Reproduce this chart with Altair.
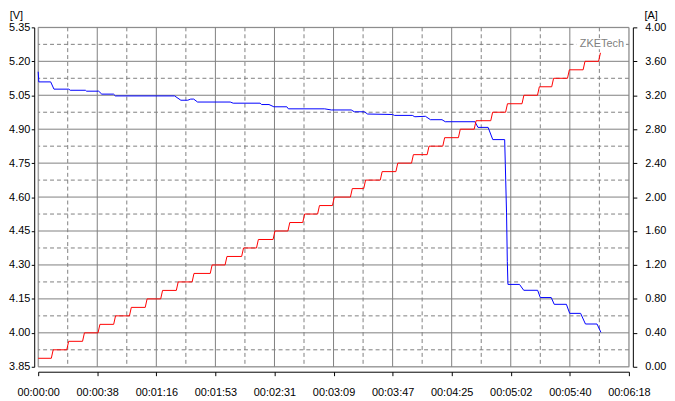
import json
import altair as alt
import pandas as pd

# ---------------- data ----------------
time_ticks = [0, 37.8, 75.6, 113.4, 151.2, 189.0, 226.8, 264.6, 302.4, 340.2, 378.0]
time_labels = ["00:00:00", "00:00:38", "00:01:16", "00:01:53", "00:02:31", "00:03:09",
               "00:03:47", "00:04:25", "00:05:02", "00:05:40", "00:06:18"]
time_minor = [18.9, 56.7, 94.5, 132.3, 170.1, 207.9, 245.7, 283.5, 321.3, 359.1]
volt_ticks = [3.85, 4.00, 4.15, 4.30, 4.45, 4.60, 4.75, 4.90, 5.05, 5.20, 5.35]
volt_minor = [3.925, 4.075, 4.225, 4.375, 4.525, 4.675, 4.825, 4.975, 5.125, 5.275]
amp_ticks = [0.0, 0.4, 0.8, 1.2, 1.6, 2.0, 2.4, 2.8, 3.2, 3.6, 4.0]

# voltage (blue) trace: time [s], voltage [V]
volt_time = [0.0, 0.4, 8.0, 10.1, 19.6, 20.5, 30.2, 31.0, 38.7, 40.7, 48.2, 49.4, 87.3, 91.3,
             95.7, 97.6, 99.5, 102.0, 122.9, 124.8, 142.0, 143.0, 147.7, 150.8, 159.1, 160.1,
             183.3, 187.6, 200.3, 202.3, 208.7, 210.8, 226.7, 228.0, 239.4, 241.0, 247.8, 251.0,
             258.4, 260.5, 279.5, 281.4, 287.9, 290.9, 298.5, 298.9, 299.7, 300.2, 300.6, 308.0,
             310.7, 319.6, 321.3, 328.3, 330.2, 338.0, 340.1, 347.1, 350.2, 357.6, 360.1]
volt_value = [5.154, 5.109, 5.109, 5.077, 5.077, 5.072, 5.072, 5.068, 5.068, 5.055, 5.055, 5.047,
              5.047, 5.028, 5.028, 5.033, 5.033, 5.020, 5.020, 5.015, 5.015, 5.009, 5.009, 4.999,
              4.999, 4.990, 4.990, 4.985, 4.985, 4.977, 4.977, 4.967, 4.965, 4.961, 4.961, 4.955,
              4.957, 4.942, 4.942, 4.933, 4.933, 4.908, 4.908, 4.854, 4.854, 4.749, 4.530, 4.315,
              4.214, 4.214, 4.188, 4.188, 4.156, 4.156, 4.126, 4.126, 4.086, 4.086, 4.039, 4.039,
              4.002]

# current (red) staircase: level [A] and the time [s] at which each level begins
amp_levels = [0.1, 0.2, 0.3, 0.4, 0.5, 0.6, 0.7, 0.8, 0.9, 1.0, 1.1, 1.2, 1.3, 1.4, 1.5, 1.6,
              1.7, 1.8, 1.9, 2.0, 2.1, 2.2, 2.3, 2.4, 2.5, 2.6, 2.7, 2.8, 2.9, 3.0, 3.1, 3.2,
              3.3, 3.4, 3.5, 3.6, 3.7]
amp_step_times = [0, 9.0, 18.9, 29.0, 38.9, 48.9, 59.0, 69.1, 79.0, 89.0, 99.1, 110.7, 120.2,
                  130.8, 140.3, 150.9, 160.4, 169.9, 179.4, 188.9, 200.4, 208.9, 219.5, 229.5,
                  239.5, 249.5, 259.5, 269.5, 279.6, 290.2, 299.7, 310.2, 320.1, 329.2, 339.3,
                  349.3, 359.2]
amp_end_time = 359.8

unit_labels = ["[V]", "[A]"]
watermark = ["ZKETech"]

# ---------------- tables ----------------
vdf = pd.DataFrame({"t": volt_time, "v": volt_value})
vdf["i"] = range(len(vdf))

rows = []
n = len(amp_levels)
for k in range(n):
    start = 0.0 if k == 0 else amp_step_times[k] + 0.6
    end = amp_step_times[k + 1] - 0.6 if k < n - 1 else amp_end_time
    rows.append((start, amp_levels[k]))
    rows.append((end, amp_levels[k]))
adf = pd.DataFrame(rows, columns=["t", "a"])
adf["i"] = range(len(adf))

FONT = "Liberation Sans"
GRID = "#808080"
W, H = 597, 343

xscale = alt.Scale(domain=[0, 378], nice=False, zero=False)
vscale = alt.Scale(domain=[3.85, 5.35], nice=False, zero=False)
ascale = alt.Scale(domain=[0, 4.0], nice=False, zero=False)

label_expr = json.dumps(time_labels) + "[round(datum.value / 37.8)]"
xaxis = alt.Axis(values=time_ticks, labelExpr=label_expr, title=None, grid=False, offset=5,
                 domainColor="black", tickColor="black", tickSize=4, labelPadding=11,
                 labelFontSize=11, labelColor="black", labelFont=FONT, labelFlush=False,
                 labelOverlap=False)
vaxis = alt.Axis(values=volt_ticks, format=".2f", title=None, offset=4,
                 grid=False, domainColor="black", tickColor="black", tickSize=3,
                 labelPadding=1.5, labelFontSize=11, labelColor="black", labelFont=FONT,
                 labelFlush=False, labelOverlap=False)
aaxis = alt.Axis(values=amp_ticks, format=".2f", title=None, orient="right",
                 offset=4, grid=False, domainColor="black", tickColor="black", tickSize=4,
                 labelPadding=8, labelFontSize=11, labelColor="black", labelFont=FONT,
                 labelFlush=False, labelOverlap=False)


def X():
    return alt.X("t:Q", scale=xscale, axis=xaxis)


def YV():
    return alt.Y("v:Q", scale=vscale, axis=vaxis)


vmajor = alt.Chart(pd.DataFrame({"t": time_ticks})).mark_rule(
    color=GRID, strokeWidth=1).encode(x=X())
vminor = alt.Chart(pd.DataFrame({"t": time_minor})).mark_rule(
    color=GRID, strokeWidth=1, strokeDash=[4, 3]).encode(x=X())
hmajor = alt.Chart(pd.DataFrame({"v": volt_ticks})).mark_rule(
    color=GRID, strokeWidth=1).encode(y=YV())
hminor = alt.Chart(pd.DataFrame({"v": volt_minor})).mark_rule(
    color=GRID, strokeWidth=1, strokeDash=[4, 3]).encode(y=YV())

wm_bg = alt.Chart(pd.DataFrame({"w": watermark})).mark_rect(color="white").encode(
    x=alt.value(544), x2=alt.value(594), y=alt.value(11), y2=alt.value(22))
wm = alt.Chart(pd.DataFrame({"w": watermark})).mark_text(
    align="right", baseline="middle", font=FONT, fontSize=11, color=GRID).encode(
    text="w:N", x=alt.value(592), y=alt.value(16.5))

unit_v = alt.Chart(pd.DataFrame({"u": [unit_labels[0]]})).mark_text(
    align="center", baseline="middle", font=FONT, fontSize=11, color="black").encode(
    text="u:N", x=alt.value(-22), y=alt.value(-11))
unit_a = alt.Chart(pd.DataFrame({"u": [unit_labels[1]]})).mark_text(
    align="center", baseline="middle", font=FONT, fontSize=11, color="black").encode(
    text="u:N", x=alt.value(619.5), y=alt.value(-11))

vline = alt.Chart(vdf).mark_line(color="#0000FF", strokeWidth=1).encode(
    x=X(), y=YV(), order=alt.Order("i:Q"))

left = alt.layer(hminor, vminor, hmajor, vmajor, wm_bg, wm, unit_v, unit_a, vline)

aline = alt.Chart(adf).mark_line(color="#FF0000", strokeWidth=1).encode(
    x=X(), y=alt.Y("a:Q", scale=ascale, axis=aaxis), order=alt.Order("i:Q"))

chart = alt.layer(left, aline).resolve_scale(y="independent").properties(
    width=W, height=H,
    autosize=alt.AutoSizeParams(type="none"),
    padding={"left": 30.5, "top": 17.5, "right": 38.5, "bottom": 31.5},
    background="white",
).configure_view(stroke=None).configure_axis(translate=0).configure(font=FONT)

chart.save("out.html", embed_options={"renderer": "svg", "actions": False})
